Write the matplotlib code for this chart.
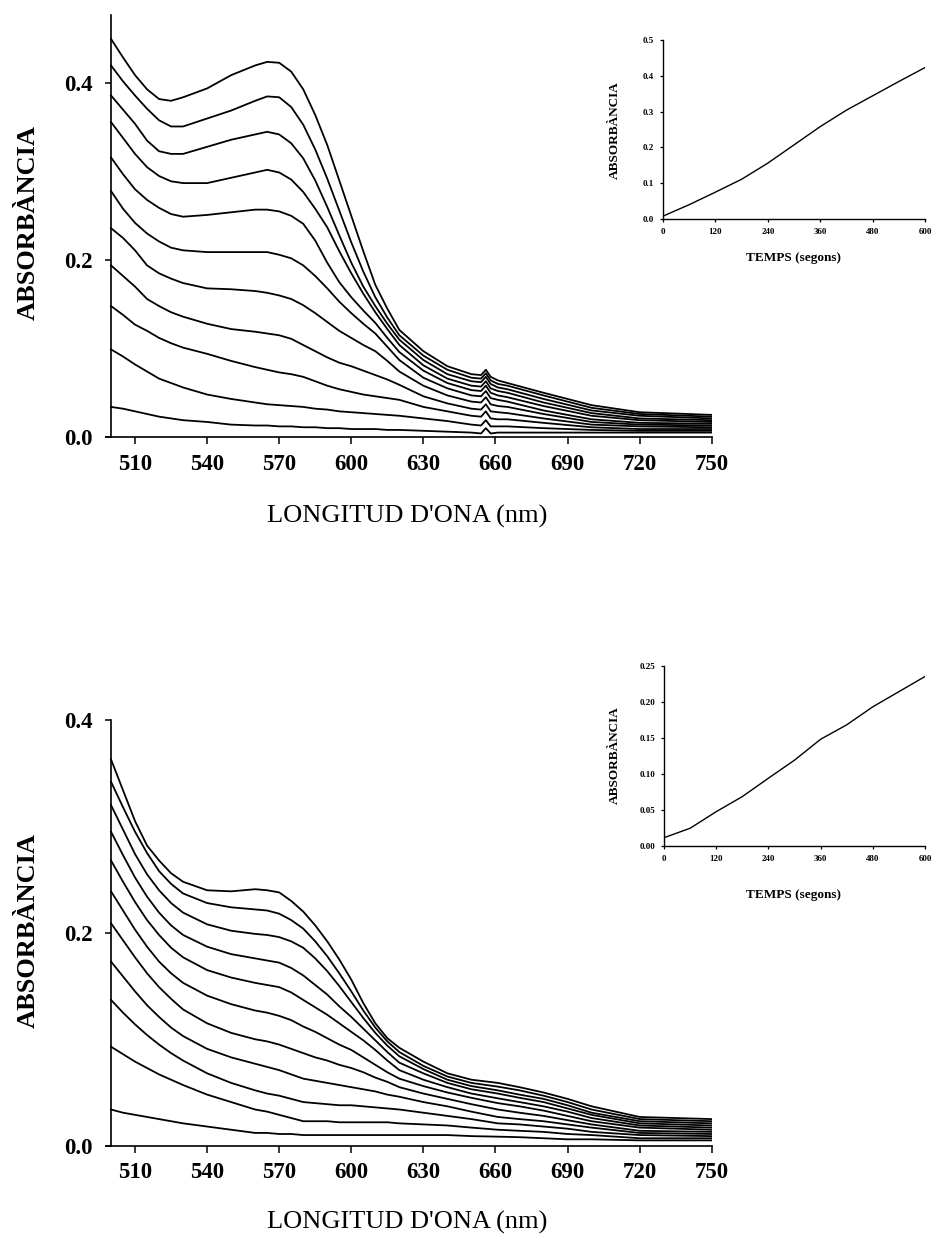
import matplotlib
matplotlib.use('Agg')
import matplotlib.pyplot as plt

plt.rcParams['font.family'] = ['Liberation Serif', 'DejaVu Serif']

# Longituds d'ona (nm) dels espectres
wl_top = [500, 505, 510, 515, 520, 525, 530, 540, 550, 560, 565, 570, 575, 580, 585, 590,
          595, 600, 605, 610, 615, 620, 630, 640, 650, 654, 656, 658, 661, 665, 680, 700, 720, 750]

# Espectres superiors (del primer al darrer)
top_1 = [0.450, 0.429, 0.409, 0.393, 0.382, 0.380, 0.384, 0.394, 0.409, 0.420, 0.424, 0.423, 0.413, 0.393, 0.364, 0.330,
         0.290, 0.250, 0.210, 0.172, 0.145, 0.121, 0.097, 0.080, 0.071, 0.070, 0.076, 0.068, 0.064, 0.061, 0.050, 0.036, 0.028, 0.025]
top_2 = [0.420, 0.402, 0.386, 0.371, 0.358, 0.351, 0.351, 0.360, 0.369, 0.380, 0.385, 0.384, 0.373, 0.353, 0.325, 0.292,
         0.256, 0.220, 0.187, 0.158, 0.135, 0.115, 0.092, 0.076, 0.067, 0.066, 0.072, 0.064, 0.060, 0.058, 0.047, 0.033, 0.026, 0.023]
top_3 = [0.386, 0.370, 0.354, 0.335, 0.323, 0.320, 0.320, 0.328, 0.336, 0.342, 0.345, 0.342, 0.332, 0.315, 0.290, 0.260,
         0.228, 0.197, 0.170, 0.148, 0.128, 0.110, 0.087, 0.071, 0.063, 0.062, 0.068, 0.060, 0.056, 0.054, 0.043, 0.030, 0.024, 0.021]
top_4 = [0.356, 0.338, 0.320, 0.305, 0.295, 0.289, 0.287, 0.287, 0.293, 0.299, 0.302, 0.299, 0.291, 0.277, 0.258, 0.237,
         0.210, 0.185, 0.162, 0.141, 0.122, 0.104, 0.081, 0.066, 0.058, 0.057, 0.063, 0.055, 0.052, 0.050, 0.039, 0.027, 0.021, 0.019]
top_5 = [0.316, 0.297, 0.280, 0.268, 0.259, 0.252, 0.249, 0.251, 0.254, 0.257, 0.257, 0.255, 0.250, 0.241, 0.222, 0.197,
         0.175, 0.158, 0.143, 0.129, 0.112, 0.096, 0.075, 0.061, 0.053, 0.052, 0.058, 0.050, 0.047, 0.045, 0.035, 0.024, 0.019, 0.017]
top_6 = [0.278, 0.258, 0.242, 0.230, 0.221, 0.214, 0.211, 0.209, 0.209, 0.209, 0.209, 0.206, 0.202, 0.194, 0.182, 0.168,
         0.153, 0.140, 0.128, 0.117, 0.102, 0.087, 0.067, 0.055, 0.047, 0.046, 0.052, 0.044, 0.042, 0.040, 0.030, 0.020, 0.016, 0.015]
top_7 = [0.236, 0.225, 0.211, 0.194, 0.185, 0.179, 0.174, 0.168, 0.167, 0.165, 0.163, 0.160, 0.156, 0.149, 0.140, 0.130,
         0.120, 0.112, 0.104, 0.097, 0.086, 0.074, 0.058, 0.047, 0.040, 0.039, 0.045, 0.037, 0.035, 0.034, 0.026, 0.017, 0.014, 0.013]
top_8 = [0.194, 0.182, 0.170, 0.156, 0.148, 0.141, 0.136, 0.128, 0.122, 0.119, 0.117, 0.115, 0.111, 0.104, 0.097, 0.090,
         0.084, 0.080, 0.075, 0.070, 0.065, 0.059, 0.046, 0.038, 0.032, 0.031, 0.037, 0.029, 0.028, 0.027, 0.021, 0.014, 0.012, 0.011]
top_9 = [0.148, 0.138, 0.127, 0.120, 0.112, 0.106, 0.101, 0.094, 0.086, 0.079, 0.076, 0.073, 0.071, 0.068, 0.063, 0.058,
         0.054, 0.051, 0.048, 0.046, 0.044, 0.042, 0.034, 0.029, 0.024, 0.023, 0.029, 0.021, 0.020, 0.020, 0.016, 0.011, 0.009, 0.009]
top_10 = [0.099, 0.091, 0.082, 0.074, 0.066, 0.061, 0.056, 0.048, 0.043, 0.039, 0.037, 0.036, 0.035, 0.034, 0.032, 0.031,
          0.029, 0.028, 0.027, 0.026, 0.025, 0.024, 0.021, 0.018, 0.014, 0.013, 0.019, 0.012, 0.012, 0.012, 0.010, 0.008, 0.007, 0.007]
top_11 = [0.034, 0.032, 0.029, 0.026, 0.023, 0.021, 0.019, 0.017, 0.014, 0.013, 0.013, 0.012, 0.012, 0.011, 0.011, 0.010,
          0.010, 0.009, 0.009, 0.009, 0.008, 0.008, 0.007, 0.006, 0.005, 0.004, 0.010, 0.004, 0.005, 0.005, 0.005, 0.005, 0.005, 0.005]

wl_bot = [500, 505, 510, 515, 520, 525, 530, 540, 550, 560, 565, 570, 575, 580, 585, 590,
          595, 600, 605, 610, 615, 620, 630, 640, 650, 661, 670, 680, 690, 700, 720, 750]

# Espectres inferiors
bot_1 = [0.363, 0.334, 0.305, 0.282, 0.268, 0.256, 0.248, 0.240, 0.239, 0.241, 0.240, 0.238, 0.230, 0.220, 0.207, 0.192,
         0.175, 0.156, 0.134, 0.115, 0.101, 0.092, 0.079, 0.068, 0.062, 0.059, 0.055, 0.050, 0.044, 0.037, 0.027, 0.025]
bot_2 = [0.342, 0.318, 0.295, 0.275, 0.258, 0.246, 0.237, 0.228, 0.224, 0.222, 0.221, 0.218, 0.212, 0.204, 0.192, 0.178,
         0.162, 0.145, 0.127, 0.111, 0.098, 0.088, 0.075, 0.065, 0.059, 0.0555, 0.052, 0.047, 0.041, 0.034, 0.025, 0.023]
bot_3 = [0.320, 0.297, 0.274, 0.255, 0.240, 0.228, 0.219, 0.208, 0.202, 0.199, 0.198, 0.196, 0.192, 0.186, 0.176, 0.164,
         0.150, 0.135, 0.120, 0.106, 0.094, 0.084, 0.072, 0.062, 0.056, 0.052, 0.048, 0.044, 0.038, 0.031, 0.023, 0.021]
bot_4 = [0.295, 0.273, 0.252, 0.234, 0.219, 0.207, 0.198, 0.187, 0.180, 0.176, 0.174, 0.172, 0.167, 0.160, 0.151, 0.142,
         0.131, 0.121, 0.110, 0.099, 0.088, 0.078, 0.068, 0.059, 0.053, 0.049, 0.045, 0.041, 0.035, 0.029, 0.021, 0.019]
bot_5 = [0.268, 0.248, 0.229, 0.212, 0.198, 0.186, 0.177, 0.165, 0.158, 0.153, 0.151, 0.149, 0.144, 0.137, 0.130, 0.123,
         0.115, 0.107, 0.099, 0.090, 0.080, 0.071, 0.062, 0.055, 0.049, 0.0445, 0.041, 0.037, 0.032, 0.026, 0.019, 0.017]
bot_6 = [0.239, 0.221, 0.203, 0.187, 0.173, 0.162, 0.153, 0.141, 0.133, 0.127, 0.125, 0.122, 0.118, 0.112, 0.107, 0.101,
         0.095, 0.090, 0.083, 0.076, 0.069, 0.063, 0.056, 0.050, 0.045, 0.040, 0.037, 0.033, 0.028, 0.023, 0.017, 0.015]
bot_7 = [0.209, 0.193, 0.177, 0.162, 0.149, 0.138, 0.128, 0.115, 0.106, 0.100, 0.098, 0.095, 0.091, 0.087, 0.083, 0.080,
         0.076, 0.073, 0.069, 0.064, 0.060, 0.055, 0.049, 0.044, 0.039, 0.034, 0.031, 0.028, 0.024, 0.020, 0.014, 0.013]
bot_8 = [0.173, 0.159, 0.145, 0.132, 0.121, 0.111, 0.103, 0.091, 0.083, 0.077, 0.074, 0.071, 0.067, 0.063, 0.061, 0.059,
         0.057, 0.055, 0.053, 0.051, 0.048, 0.046, 0.041, 0.037, 0.032, 0.027, 0.025, 0.023, 0.020, 0.017, 0.012, 0.011]
bot_9 = [0.137, 0.125, 0.114, 0.104, 0.095, 0.087, 0.080, 0.068, 0.059, 0.052, 0.049, 0.047, 0.044, 0.041, 0.040, 0.039,
         0.038, 0.038, 0.037, 0.036, 0.035, 0.034, 0.031, 0.028, 0.025, 0.021, 0.020, 0.018, 0.016, 0.013, 0.010, 0.009]
bot_10 = [0.093, 0.086, 0.079, 0.073, 0.067, 0.062, 0.057, 0.048, 0.041, 0.034, 0.032, 0.029, 0.026, 0.023, 0.023, 0.023,
          0.022, 0.022, 0.022, 0.022, 0.022, 0.021, 0.020, 0.019, 0.017, 0.015, 0.014, 0.013, 0.011, 0.010, 0.007, 0.007]
bot_11 = [0.034, 0.031, 0.029, 0.027, 0.025, 0.023, 0.021, 0.018, 0.015, 0.012, 0.012, 0.011, 0.011, 0.010, 0.010, 0.010,
          0.010, 0.010, 0.010, 0.010, 0.010, 0.010, 0.010, 0.010, 0.009, 0.0085, 0.008, 0.007, 0.006, 0.006, 0.005, 0.005]

# Cinètiques (insets)
temps = [0, 60, 120, 180, 240, 300, 360, 420, 480, 540, 600]
abs_top = [0.008, 0.040, 0.075, 0.111, 0.156, 0.207, 0.258, 0.304, 0.344, 0.384, 0.423]
abs_bot = [0.0115, 0.0246, 0.0476, 0.0685, 0.094, 0.119, 0.148, 0.168, 0.193, 0.214, 0.235]

wl_ticks = [510, 540, 570, 600, 630, 660, 690, 720, 750]
temps_ticks = [0, 120, 240, 360, 480, 600]

top_curves = [top_1, top_2, top_3, top_4, top_5, top_6, top_7, top_8, top_9, top_10, top_11]
bot_curves = [bot_1, bot_2, bot_3, bot_4, bot_5, bot_6, bot_7, bot_8, bot_9, bot_10, bot_11]

W, H = 936, 1240
fig = plt.figure(figsize=(W / 100, H / 100), dpi=100)


def px_axes(x0, y_bottom, x1, y_top):
    # posicio en pixels (origen a dalt a l'esquerra)
    return fig.add_axes([x0 / W, 1 - y_bottom / H, (x1 - x0) / W, (y_bottom - y_top) / H])


def estil_principal(ax, ymax, yticks):
    ax.set_xlim(498, 750)
    ax.set_ylim(0, ymax)
    ax.spines['left'].set_position(('data', 500))
    ax.spines['left'].set_bounds(0, ymax)
    ax.spines['top'].set_visible(False)
    ax.spines['right'].set_visible(False)
    for s in ['left', 'bottom']:
        ax.spines[s].set_linewidth(1.2)
    ax.set_xticks(wl_ticks)
    ax.set_yticks(yticks)
    ax.set_yticklabels(['%.1f' % v for v in yticks])
    ax.tick_params(axis='x', direction='out', length=5, width=1.1, pad=7, labelsize=16.5)
    ax.tick_params(axis='y', direction='out', length=4, width=1.1, pad=9, labelsize=16.5)
    for lab in ax.get_xticklabels() + ax.get_yticklabels():
        lab.set_fontweight('bold')


def estil_inset(ax, ymax, yticks, fmt):
    ax.set_xlim(0, 600)
    ax.set_ylim(0, ymax)
    ax.spines['top'].set_visible(False)
    ax.spines['right'].set_visible(False)
    for s in ['left', 'bottom']:
        ax.spines[s].set_linewidth(1.0)
    ax.set_xticks(temps_ticks)
    ax.set_yticks(yticks)
    ax.set_yticklabels([fmt % v for v in yticks])
    ax.tick_params(axis='both', direction='out', length=2.5, width=0.9, pad=4, labelsize=6.5)
    for lab in ax.get_xticklabels() + ax.get_yticklabels():
        lab.set_fontweight('bold')


# Grafic superior
ax1 = px_axes(106.2, 437, 711.7, 15)
for c in top_curves:
    ax1.plot(wl_top, c, color='black', lw=1.3)
estil_principal(ax1, 0.477, [0.0, 0.2, 0.4])
fig.text(28 / W, 1 - 222 / H, 'ABSORBÀNCIA', rotation=90, ha='center', va='center',
         fontsize=19, fontweight='bold')
fig.text(407 / W, 1 - 516 / H, "LONGITUD D'ONA (nm)", ha='center', va='center', fontsize=19)

# Grafic inferior
ax2 = px_axes(106.2, 1145.7, 711.7, 720)
for c in bot_curves:
    ax2.plot(wl_bot, c, color='black', lw=1.3)
estil_principal(ax2, 0.4, [0.0, 0.2, 0.4])
fig.text(28 / W, 1 - 930 / H, 'ABSORBÀNCIA', rotation=90, ha='center', va='center',
         fontsize=19, fontweight='bold')
fig.text(407 / W, 1 - 1222 / H, "LONGITUD D'ONA (nm)", ha='center', va='center', fontsize=19)

# Inset superior
ai1 = px_axes(663, 219, 925, 40)
ai1.plot(temps, abs_top, color='black', lw=1.0)
estil_inset(ai1, 0.5, [0.0, 0.1, 0.2, 0.3, 0.4, 0.5], '%.1f')
fig.text(615 / W, 1 - 130 / H, 'ABSORBÀNCIA', rotation=90, ha='center', va='center',
         fontsize=9.5, fontweight='bold')
fig.text(793 / W, 1 - 258 / H, 'TEMPS (segons)', ha='center', va='center', fontsize=9.5, fontweight='bold')

# Inset inferior
ai2 = px_axes(664, 846, 925, 665.7)
ai2.plot(temps, abs_bot, color='black', lw=1.0)
estil_inset(ai2, 0.25, [0.00, 0.05, 0.10, 0.15, 0.20, 0.25], '%.2f')
fig.text(615 / W, 1 - 755 / H, 'ABSORBÀNCIA', rotation=90, ha='center', va='center',
         fontsize=9.5, fontweight='bold')
fig.text(793 / W, 1 - 895 / H, 'TEMPS (segons)', ha='center', va='center', fontsize=9.5, fontweight='bold')

fig.savefig('out.png', dpi=100)
